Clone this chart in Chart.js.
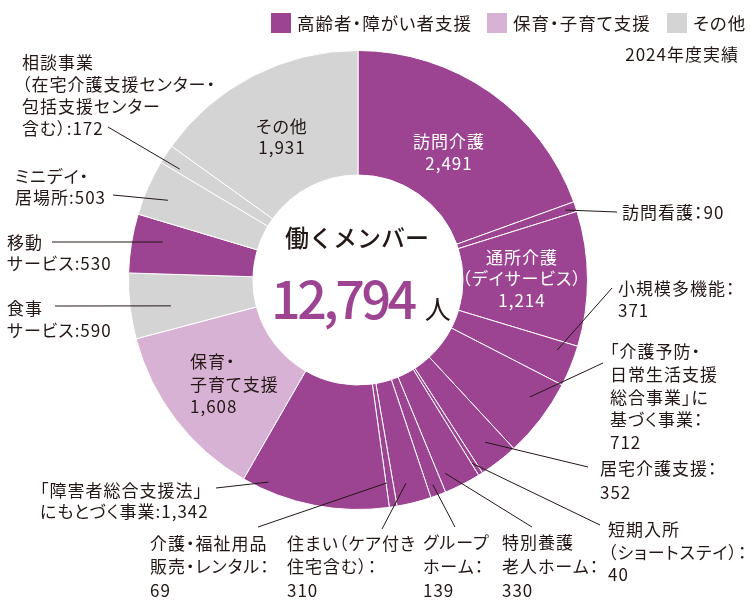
<!DOCTYPE html>
<html lang="ja">
<head>
<meta charset="utf-8">
<script src="https://cdn.jsdelivr.net/npm/chart.js@4.4.1/dist/chart.umd.min.js"></script>
<style>
html,body{margin:0;padding:0;background:#fff;}
#wrap{position:relative;width:750px;height:605px;overflow:hidden;font-family:"Noto Sans CJK JP","Noto Sans",sans-serif;color:#231815;font-feature-settings:"palt";}
#chart{position:absolute;left:0;top:0;}
.abs{position:absolute;white-space:nowrap;}
.lbl{position:absolute;font-size:17px;line-height:23px;letter-spacing:1px;white-space:nowrap;}
.lbl.c{transform:translateX(-50%);text-align:center;}
.legend{position:absolute;top:13px;display:flex;align-items:center;font-size:17.5px;letter-spacing:1px;line-height:20px;white-space:nowrap;}
.legend i{display:inline-block;width:20px;height:20px;margin-right:6px;}
</style>
</head>
<body>
<div id="wrap">
<canvas id="chart" width="750" height="605"></canvas>
</div>
<script>
// ---- data ----
const categories = ["訪問介護","訪問看護","通所介護（デイサービス）","小規模多機能","「介護予防・日常生活支援総合事業」に基づく事業","居宅介護支援","短期入所（ショートステイ）","特別養護老人ホーム","グループホーム","住まい（ケア付き住宅含む）","介護・福祉用品販売・レンタル","「障害者総合支援法」にもとづく事業","保育・子育て支援","食事サービス","移動サービス","ミニデイ・居場所","相談事業（在宅介護支援センター・包括支援センター含む）","その他"];
const values = [2491,90,1214,371,712,352,40,330,139,310,69,1342,1608,590,530,503,172,1931];
const groups = [0,0,0,0,0,0,0,0,0,0,0,0,1,2,0,2,2,2];
const groupNames = ["高齢者・障がい者支援","保育・子育て支援","その他"];
const groupColors = ["#9c4392","#d8b2d4","#d4d4d4"];
const centerTitle = "働くメンバー";
const centerUnit = "人";
const yearNote = "2024年度実績";
// label text lines per category ({v} = value)
const labelLines = {
  0:["訪問介護","{v}"],
  1:["訪問看護：{v}"],
  2:["通所介護","（デイサービス）","{v}"],
  3:["小規模多機能：","{v}"],
  4:["「介護予防・","日常生活支援","総合事業」に","基づく事業：","{v}"],
  5:["居宅介護支援：","{v}"],
  6:["短期入所","（ショートステイ）：","{v}"],
  7:["特別養護","老人ホーム：","{v}"],
  8:["グループ","ホーム：","{v}"],
  9:["住まい（ケア付き","住宅含む）：","{v}"],
  10:["介護・福祉用品","販売・レンタル：","{v}"],
  11:["「障害者総合支援法」","にもとづく事業:{v}"],
  12:["保育・","子育て支援","{v}"],
  13:["食事","サービス:{v}"],
  14:["移動","サービス:{v}"],
  15:["ミニデイ・","居場所:{v}"],
  16:["相談事業","（在宅介護支援センター・","包括支援センター","含む）:{v}"],
  17:["その他","{v}"]
};

// ---- layout (positions of text + leader lines) ----
const labelLayout = [
  {i:0, x:449, y:141, lh:22, c:true, color:"#fff"},
  {i:2, x:522, y:257, lh:21.5, c:true, color:"#fff"},
  {i:17, x:282, y:126, lh:21, c:true},
  {i:12, x:190, y:362, lh:22.5},
  {i:1, x:622, y:212},
  {i:3, x:618, y:288, lh:22},
  {i:4, x:610, y:352, lh:22.8},
  {i:5, x:600, y:468, lh:24},
  {i:6, x:608, y:530, lh:22.5},
  {i:7, x:502, y:542, lh:24},
  {i:8, x:423, y:542, lh:24},
  {i:9, x:287, y:543, lh:23.5},
  {i:10, x:150, y:543, lh:23.5},
  {i:11, x:40, y:490, lh:21},
  {i:13, x:7, y:308, lh:22},
  {i:14, x:7, y:242, lh:21},
  {i:15, x:15, y:176, lh:21},
  {i:16, x:22, y:62, lh:22}
];
const leaders = [
  {i:1, x:617, y:212, t:0.5, r:0.954},
  {i:3, x:612, y:288, t:0.25, r:0.92},
  {i:4, x:603, y:363, t:0.35, r:0.906},
  {i:5, x:588, y:467, t:0.47, r:0.898},
  {i:6, x:600, y:525, t:0.83, r:0.941},
  {i:7, x:532, y:527, t:0.8, r:0.924},
  {i:8, x:455, y:527, t:0.6, r:0.95},
  {i:9, x:382, y:529, t:0.6, r:0.91},
  {i:10, x:258, y:527, t:0.87, r:0.893},
  {i:11, x:216, y:488, t:0.84, r:0.963},
  {i:13, x:55, y:306, t:0.42, r:0.823},
  {i:14, x:52, y:242, t:0.62, r:0.867},
  {i:15, x:113, y:195, t:0.43, r:0.898},
  {i:16, x:108, y:127, t:0.22, r:0.915}
];

const fmt = v => v.toLocaleString('en-US');
const total = values.reduce((a,b)=>a+b,0);

const leaderPlugin = {
  id:'leaders',
  afterDatasetsDraw(chart){
    const meta = chart.getDatasetMeta(0);
    const ctx = chart.ctx;
    ctx.save();
    ctx.strokeStyle = '#231815';
    ctx.lineWidth = 1;
    leaders.forEach(L => {
      const p = meta.data[L.i].getProps(['x','y','startAngle','endAngle','outerRadius'], true);
      const a = p.startAngle + L.t*(p.endAngle - p.startAngle);
      const r = L.r * p.outerRadius;
      ctx.beginPath();
      ctx.moveTo(L.x, L.y);
      ctx.lineTo(p.x + r*Math.cos(a), p.y + r*Math.sin(a));
      ctx.stroke();
    });
    ctx.restore();
  }
};

new Chart(document.getElementById('chart'), {
  type:'doughnut',
  data:{
    labels:categories,
    datasets:[{
      data:values,
      backgroundColor:groups.map(g=>groupColors[g]),
      borderColor:'#ffffff',
      borderWidth:1,
      hoverOffset:0
    }]
  },
  options:{
    responsive:false,
    animation:false,
    events:[],
    cutout:105,
    layout:{padding:{left:128,top:50,right:162,bottom:95}},
    plugins:{legend:{display:false},tooltip:{enabled:false}}
  },
  plugins:[leaderPlugin]
});

// ---- text overlay ----
const wrap = document.getElementById('wrap');
function addDiv(html, style, cls){
  const d = document.createElement('div');
  d.className = cls || 'abs';
  d.innerHTML = html;
  Object.assign(d.style, style);
  wrap.appendChild(d);
  return d;
}
labelLayout.forEach(L => {
  const lh = L.lh || 23;
  const lines = labelLines[L.i].map(s => s.replace('{v}', fmt(values[L.i])));
  addDiv(lines.join('<br>'), {left:L.x+'px', top:(L.y - lh/2 - 0.5)+'px', lineHeight:lh+'px', color:L.color||'#231815'}, 'lbl'+(L.c?' c':''));
});
// legend
const legendX = [271, 487, 667];
groupNames.forEach((g,k)=>{
  addDiv('<i style="background:'+groupColors[k]+'"></i>'+g, {left:legendX[k]+'px'}, 'legend');
});
addDiv(yearNote, {right:'11px', top:'42px', fontSize:'17px', letterSpacing:'1px', lineHeight:'24px'}, 'lbl');
// center
addDiv(centerTitle, {left:'357px', top:'222px', transform:'translateX(-50%)', fontSize:'24px', fontWeight:'500', lineHeight:'30px', fontFeatureSettings:'normal', letterSpacing:'0px'});
addDiv('<span style="color:#9c4392;font-size:52px;letter-spacing:-3.5px;font-weight:500">'+fmt(total)+'</span><span style="font-size:26px;margin-left:11px;font-weight:400">'+centerUnit+'</span>',
  {left:'271px', top:'267px', lineHeight:'60px', display:'flex', alignItems:'baseline'});
</script>
</body>
</html>
